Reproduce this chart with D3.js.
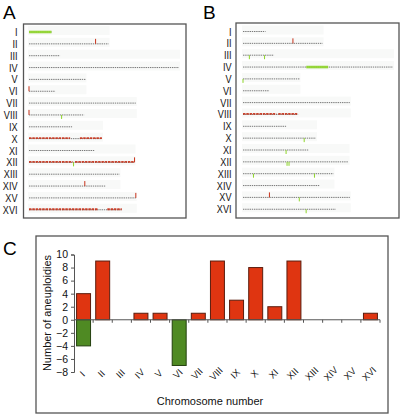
<!DOCTYPE html>
<html><head><meta charset="utf-8">
<script src="https://cdn.jsdelivr.net/npm/d3@7/dist/d3.min.js"></script>
<style>
body{margin:0;background:#fff;}
svg{display:block;font-family:"Liberation Sans",Arial,sans-serif;}
</style></head>
<body>
<svg id="chart" width="401" height="415"></svg>
<script>
// ---------- data ----------
const chromosomes = ["I","II","III","IV","V","VI","VII","VIII","IX","X","XI","XII","XIII","XIV","XV","XVI"];
const chromLengthKb = [230,813,317,1532,577,270,1091,563,440,745,667,1078,924,784,1091,948];

// Panel A: segments [chromosome, startKb, endKb, kind]
const segmentsA = [["I",0,230,"loss"],["X",0,420,"gain"],["X",520,745,"gain"],["XII",0,445,"gain"],["XII",470,1078,"gain"],["XVI",0,700,"gain"],["XVI",800,948,"gain"]];
// Panel A: spikes [chromosome, posKb, kind]
const spikesA = [["II",680,"gain"],["VI",0,"gain"],["VIII",0,"gain"],["VIII",333,"loss"],["XII",455,"loss"],["XII",1078,"gain"],["XIV",570,"gain"],["XV",1091,"gain"]];
// Panel B
const segmentsB = [["IV",646,870,"loss"],["VIII",0,340,"gain"],["VIII",360,560,"gain"]];
const spikesB = [["II",510,"gain"],["III",65,"loss"],["III",220,"loss"],["V",0,"loss"],["X",625,"loss"],["XI",440,"loss"],["XII",450,"loss"],["XII",470,"loss"],["XIII",107,"loss"],["XIII",730,"loss"],["XV",270,"gain"],["XV",575,"loss"],["XVI",645,"loss"]];

// Panel C: bar chart
const gainCounts = [4,9,0,1,1,0,1,9,3,8,2,9,0,0,0,1];
const lossCounts = [-4,0,0,0,0,-7,0,0,0,0,0,0,0,0,0,0];
const yTicks = [-8,-6,-4,-2,0,2,4,6,8,10];

// ---------- drawing ----------
const svg = d3.select("#chart");
const gainColor = "#c8321a", lossColor = "#8fd62a";
const textColor = "#111";

function panelLabel(t, x, y){
  svg.append("text").attr("x",x).attr("y",y).attr("font-size",19).attr("fill","#000").text(t);
}

function karyoPanel(box, labelRight, lineX0, segs, spikes){
  const g = svg.append("g");
  const kb = d3.scaleLinear().domain([0, d3.max(chromLengthKb)]).range([lineX0, lineX0 + 150]);
  const row = d3.scalePoint().domain(chromosomes).range([box.rowTop, box.rowTop + 15*11.85]);
  // faint background bands
  chromosomes.forEach((c,i)=>{
    const pair = i % 2 === 0 ? Math.max(chromLengthKb[i], chromLengthKb[i+1]||0) : Math.max(chromLengthKb[i], chromLengthKb[i-1]);
    g.append("rect").attr("x", kb(0)-1).attr("y", row(c)-6).attr("width", kb(pair)-kb(0)+2).attr("height", 9)
      .attr("fill", "#f8f9f8");
  });
  // chromosome lines
  chromosomes.forEach((c,i)=>{
    g.append("line").attr("x1",kb(0)).attr("x2",kb(chromLengthKb[i])).attr("y1",row(c)).attr("y2",row(c))
      .attr("stroke","#6b6b6b").attr("stroke-width",0.9).attr("stroke-dasharray","1.4,0.8");
    g.append("text").attr("transform",`translate(${labelRight},${row(c)+4}) scale(0.86,1)`).attr("text-anchor","end")
      .attr("font-size",10.6).attr("fill",textColor).text(c);
  });
  segs.forEach(s=>{
    const y = row(s[0]);
    g.append("line").attr("x1",kb(s[1])).attr("x2",kb(s[2])).attr("y1",s[3]==="gain"?y-0.5:y).attr("y2",s[3]==="gain"?y-0.5:y)
      .attr("stroke", s[3]==="gain"?gainColor:lossColor).attr("stroke-width", s[3]==="gain"?1.8:2.6)
      .attr("stroke-dasharray", s[3]==="gain"?"2.5,0.8":null).attr("opacity",0.9);
  });
  spikes.forEach(s=>{
    const y = row(s[0]);
    g.append("line").attr("x1",kb(s[1])).attr("x2",kb(s[1])).attr("y1",y)
      .attr("y2", s[2]==="gain"? y-5 : y+4)
      .attr("stroke", s[2]==="gain"?gainColor:lossColor).attr("stroke-width",1);
  });
  g.append("rect").attr("x",box.x).attr("y",box.y).attr("width",box.w).attr("height",box.h)
    .attr("fill","none").attr("stroke","#555").attr("stroke-width",1.3);
}

panelLabel("A", 3, 19);
panelLabel("B", 203, 19);
panelLabel("C", 3, 255);

karyoPanel({x:23.5,y:24,w:162.5,h:194,rowTop:32}, 17.5, 29, segmentsA, spikesA);
karyoPanel({x:236,y:23,w:163,h:195,rowTop:31.5}, 231.5, 243, segmentsB, spikesB);

// ---------- Panel C ----------
const c = svg.append("g");
c.append("rect").attr("x",36).attr("y",236).attr("width",352).attr("height",177)
  .attr("fill","none").attr("stroke","#555").attr("stroke-width",1.3);

const x = d3.scaleBand().domain(chromosomes).range([74,380]).paddingInner(0.27).paddingOuter(0.135);
const y = d3.scaleLinear().domain([-8,10]).range([372,254.5]);

const yAxis = c.append("g").attr("transform","translate(74,0)")
  .call(d3.axisLeft(y).tickValues(yTicks).tickSize(3).tickPadding(3).tickFormat(d3.format("d")));
yAxis.selectAll("text").attr("font-size",10.5).attr("fill",textColor).attr("font-family","Liberation Sans, Arial, sans-serif");
yAxis.select(".domain").attr("stroke","#555");
yAxis.selectAll(".tick line").attr("stroke","#555");

c.selectAll("rect.gain").data(chromosomes).enter().append("rect")
  .attr("x",d=>x(d)).attr("width",x.bandwidth())
  .attr("y",(d,i)=>y(gainCounts[i])).attr("height",(d,i)=>y(0)-y(gainCounts[i]))
  .attr("fill","#df3511").attr("stroke","#5a1d0e").attr("stroke-width",1)
  .style("display",(d,i)=>gainCounts[i]>0?null:"none");
c.selectAll("rect.loss").data(chromosomes).enter().append("rect")
  .attr("x",d=>x(d)).attr("width",x.bandwidth())
  .attr("y",y(0)).attr("height",(d,i)=>y(lossCounts[i])-y(0))
  .attr("fill","#4f8a23").attr("stroke","#24400f").attr("stroke-width",1)
  .style("display",(d,i)=>lossCounts[i]<0?null:"none");

// zero axis with ticks between categories
c.append("line").attr("x1",74).attr("x2",380).attr("y1",y(0)).attr("y2",y(0)).attr("stroke","#555").attr("stroke-width",1);
const bounds = chromosomes.map(d=>x(d)+x.bandwidth()+(x.step()-x.bandwidth())/2);
c.selectAll("line.bt").data(bounds).enter().append("line")
  .attr("x1",d=>d).attr("x2",d=>d).attr("y1",y(0)).attr("y2",y(0)+3).attr("stroke","#555");

c.selectAll("text.cat").data(chromosomes).enter().append("text")
  .attr("transform",d=>`translate(${x(d)+x.bandwidth()/2+1},${376}) rotate(-45)`)
  .attr("text-anchor","middle").attr("font-size",9.5).attr("fill",textColor).text(d=>d);

c.append("text").attr("x",210).attr("y",405).attr("text-anchor","middle").attr("font-size",11).attr("fill",textColor).text("Chromosome number");
c.append("text").attr("transform","translate(51,313) rotate(-90)").attr("text-anchor","middle")
  .attr("font-size",11).attr("fill",textColor).text("Number of aneuploidies");
</script>
</body></html>
